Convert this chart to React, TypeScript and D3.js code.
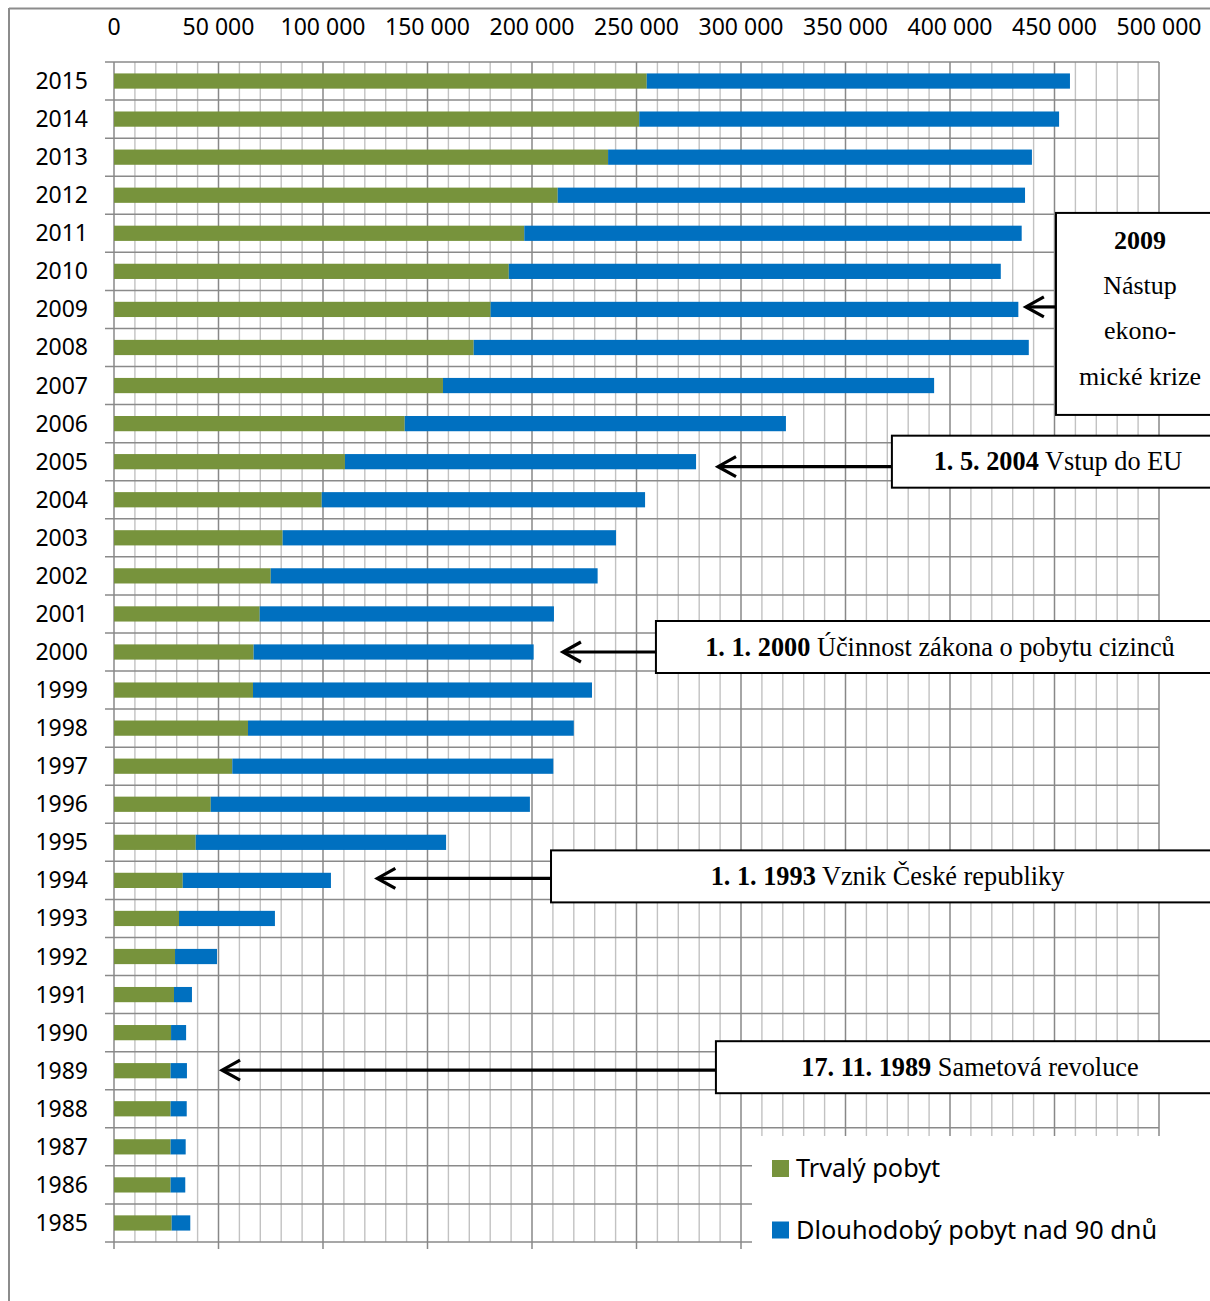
import { useEffect } from "react";
import * as d3 from "d3";

const W = 1210;
const H = 1301;

// rows, bottom to top
const YEARS = [
  "1985", "1986", "1987", "1988", "1989", "1990", "1991", "1992", "1993", "1994",
  "1995", "1996", "1997", "1998", "1999", "2000", "2001", "2002", "2003", "2004",
  "2005", "2006", "2007", "2008", "2009", "2010", "2011", "2012", "2013", "2014", "2015",
];

const TRVALY = [
  27600, 27100, 27100, 27100, 27100, 27300, 28700, 29200, 31100, 32900,
  39100, 46300, 56600, 64100, 66500, 66800, 69700, 75000, 80700, 99400,
  110500, 139100, 157400, 172100, 180200, 188900, 196300, 212300, 236400, 251300, 254900,
];

const DLOUHODOBY = [
  8900, 7000, 7200, 7700, 7800, 7200, 8600, 20100, 45900, 70900,
  119800, 152700, 153600, 155900, 162200, 134000, 140800, 156400, 159500, 154700,
  168000, 182400, 235000, 265600, 252500, 235400, 238000, 223600, 202800, 200900, 202500,
];

const X_TICKS = [0, 50000, 100000, 150000, 200000, 250000, 300000, 350000, 400000, 450000, 500000];
const SERIES = ["Trvalý pobyt", "Dlouhodobý pobyt nad 90 dnů"];
const COLORS = ["#77933C", "#0070C0"];

// annotation boxes: row they point at, bold date, text, arrow tip / box edge in data units
const EVENTS = [
  { row: "2009", date: "2009", text: ["Nástup", "ekono-", "mické krize"], tip: 436300, box: 450700 },
  { row: "2005", date: "1. 5. 2004", text: ["Vstup do EU"], tip: 289000, box: 372200 },
  { row: "2000", date: "1. 1. 2000", text: ["Účinnost zákona o pobytu cizinců"], tip: 214800, box: 259300 },
  { row: "1994", date: "1. 1. 1993", text: ["Vznik České republiky"], tip: 126000, box: 209100 },
  { row: "1989", date: "17. 11. 1989", text: ["Sametová revoluce"], tip: 51700, box: 288000 },
];
// small pixel nudges of arrow / box against row centre, same order as EVENTS
const ARROW_DY = [-2.5, 5, 0, -2, -0.5];
const BOX_DY = [0, 0, -5, -4, -3.5];

const M = { left: 114, right: 1159, top: 62, bottom: 1242 };
const BOX_RIGHT = 1224;
const SANS = "'Noto Sans', 'Open Sans', sans-serif";
const SERIF = "'Liberation Serif', 'Times New Roman', serif";

const fmt = d3.formatLocale({ decimal: ",", thousands: " ", grouping: [3], currency: ["", ""] }).format(",d");

export default function App() {
  useEffect(() => {
    document.body.style.margin = "0";
  }, []);

  const x = d3.scaleLinear().domain([0, 500000]).range([M.left, M.right]);
  const y = d3.scaleBand().domain([...YEARS].reverse()).range([M.top, M.bottom]);
  const step = y.step();
  const barH = step * 0.4;

  const rows = YEARS.map((yr, i) => ({ yr, a: TRVALY[i], b: DLOUHODOBY[i] }));
  const stack = d3.stack<{ yr: string; a: number; b: number }>().keys(["a", "b"])(rows);

  const minor = d3.range(0, 500001, 10000).filter(v => v % 50000 !== 0);
  const hLines = d3.range(0, YEARS.length + 1).map(i => M.top + i * step);
  const cy = (yr: string) => (y(yr) ?? 0) + step / 2;

  return (
    <svg width={W} height={H} style={{ display: "block", position: "absolute", left: 0, top: 0, background: "#fff" }}>
      {/* outer frame */}
      <line x1={9} x2={W} y1={8.5} y2={8.5} stroke="#8c8c8c" strokeWidth={2} />
      <line x1={9} x2={9} y1={8} y2={H} stroke="#8c8c8c" strokeWidth={2} />

      {/* grid */}
      {minor.map(v => (
        <line key={"m" + v} x1={x(v)} x2={x(v)} y1={M.top} y2={M.bottom} stroke="#c2c2c2" strokeWidth={1.4} />
      ))}
      {hLines.map((yy, i) => (
        <line key={"h" + i} x1={M.left - 9} x2={M.right} y1={yy} y2={yy} stroke="#8a8a8a" strokeWidth={1.5} />
      ))}
      {X_TICKS.map(v => (
        <line key={"M" + v} x1={x(v)} x2={x(v)} y1={M.top} y2={M.bottom + 7} stroke="#888" strokeWidth={1.5} />
      ))}

      {/* tick labels */}
      {X_TICKS.map(v => (
        <text key={"t" + v} x={x(v)} y={35} textAnchor="middle" fontFamily={SANS} fontSize={23} fill="#000">
          {fmt(v)}
        </text>
      ))}
      {YEARS.map(yr => (
        <text key={"y" + yr} x={88} y={cy(yr) + 8} textAnchor="end" fontFamily={SANS} fontSize={23} fill="#000">
          {yr}
        </text>
      ))}

      {/* bars */}
      {stack.map((s, si) => (
        <g key={s.key} fill={COLORS[si]}>
          {s.map(d => (
            <rect
              key={d.data.yr}
              x={x(d[0])}
              y={cy(d.data.yr) - barH / 2}
              width={x(d[1]) - x(d[0])}
              height={barH}
            />
          ))}
        </g>
      ))}

      {/* legend */}
      <rect x={752} y={1136} width={W - 752} height={H - 1136} fill="#fff" />
      {SERIES.map((s, i) => (
        <g key={s} transform={`translate(772, ${1160 + i * 61.5})`}>
          <rect width={17} height={17} fill={COLORS[i]} />
          <text x={24} y={17} fontFamily={SANS} fontSize={25.3} fill="#000">{s}</text>
        </g>
      ))}

      {/* annotations */}
      {EVENTS.map((ev, k) => {
        const c = cy(ev.row);
        const ay = c + ARROW_DY[k];
        const bx = x(ev.box);
        const tx = x(ev.tip);
        const multi = ev.text.length > 1;
        const h = multi ? 202 : 52;
        const top = multi ? c - 96.5 : c - h / 2 + BOX_DY[k];
        const mid = (bx + BOX_RIGHT) / 2;
        return (
          <g key={ev.date}>
            <line x1={bx} x2={tx + 1} y1={ay} y2={ay} stroke="#000" strokeWidth={3.2} />
            <polyline
              points={`${tx + 18},${ay - 10} ${tx},${ay} ${tx + 18},${ay + 10}`}
              fill="none" stroke="#000" strokeWidth={3.2}
            />
            <rect x={bx} y={top} width={BOX_RIGHT - bx} height={h} fill="#fff" stroke="#000" strokeWidth={2} />
            {multi ? (
              <text fontFamily={SERIF} fontSize={26} textAnchor="middle" fill="#000">
                <tspan x={mid} y={top + 36} fontWeight="bold">{ev.date}</tspan>
                {ev.text.map((t, i) => (
                  <tspan key={t} x={mid} y={top + 81 + i * 45.5}>{t}</tspan>
                ))}
              </text>
            ) : (
              <text x={mid} y={top + 34.5} fontFamily={SERIF} fontSize={26.3} textAnchor="middle" fill="#000">
                <tspan fontWeight="bold">{ev.date}</tspan> {ev.text[0]}
              </text>
            )}
          </g>
        );
      })}
    </svg>
  );
}
